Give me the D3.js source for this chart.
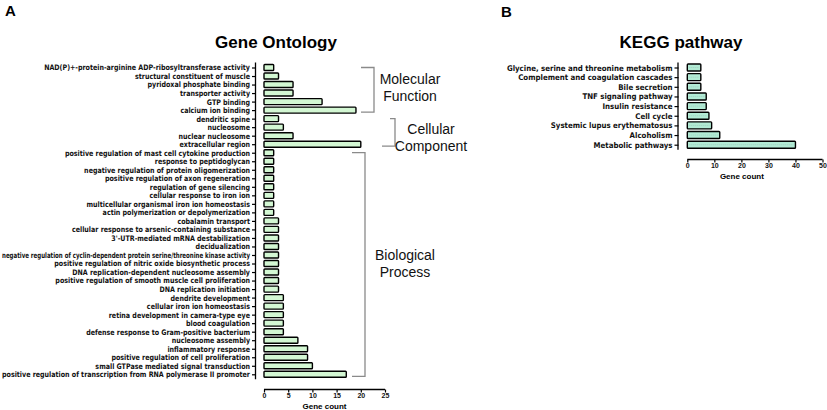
<!DOCTYPE html>
<html><head><meta charset="utf-8">
<script src="https://cdn.jsdelivr.net/npm/d3@7"></script>
<style>
body{margin:0;background:#fff;}
svg{display:block;}
</style></head><body>
<svg id="chart" width="827" height="410"></svg>
<script>
const goCategories = [
 "NAD(P)+-protein-arginine ADP-ribosyltransferase activity",
 "structural constituent of muscle",
 "pyridoxal phosphate binding",
 "transporter activity",
 "GTP binding",
 "calcium ion binding",
 "dendritic spine",
 "nucleosome",
 "nuclear nucleosome",
 "extracellular region",
 "positive regulation of mast cell cytokine production",
 "response to peptidoglycan",
 "negative regulation of protein oligomerization",
 "positive regulation of axon regeneration",
 "regulation of gene silencing",
 "cellular response to iron ion",
 "multicellular organismal iron ion homeostasis",
 "actin polymerization or depolymerization",
 "cobalamin transport",
 "cellular response to arsenic-containing substance",
 "3'-UTR-mediated mRNA destabilization",
 "decidualization",
 "negative regulation of cyclin-dependent protein serine/threonine kinase activity",
 "positive regulation of nitric oxide biosynthetic process",
 "DNA replication-dependent nucleosome assembly",
 "positive regulation of smooth muscle cell proliferation",
 "DNA replication initiation",
 "dendrite development",
 "cellular iron ion homeostasis",
 "retina development in camera-type eye",
 "blood coagulation",
 "defense response to Gram-positive bacterium",
 "nucleosome assembly",
 "inflammatory response",
 "positive regulation of cell proliferation",
 "small GTPase mediated signal transduction",
 "positive regulation of transcription from RNA polymerase II promoter"
];
const goCounts = [2,3,6,6,12,19, 3,4,6,20, 2,2,2,2,2,2,2,2,3,3,3,3,3,3,3,3,3,4,4,4,4,4,7,9,9,10,17];
const goTicks = [0,5,10,15,20,25];
const goGroups = [
 {name:["Molecular","Function"], from:0, to:5},
 {name:["Cellular","Component"], from:6, to:9},
 {name:["Biological","Process"], from:10, to:36}
];

const keggCategories = [
 "Glycine, serine and threonine metabolism",
 "Complement and coagulation cascades",
 "Bile secretion",
 "TNF signaling pathway",
 "Insulin resistance",
 "Cell cycle",
 "Systemic lupus erythematosus",
 "Alcoholism",
 "Metabolic pathways"
];
const keggCounts = [5,5,5,7,7,8,9,12,40];
const keggTicks = [0,10,20,30,40,50];

const svg = d3.select("#chart");
const labelFont = "'Liberation Sans', Arial, sans-serif";
const catFont = "'DejaVu Sans Condensed', 'Liberation Sans', Arial, sans-serif";

// Panel letters and titles
svg.append("text").attr("x",5).attr("y",16).attr("font-family",labelFont).attr("font-weight","bold").attr("font-size",15).text("A");
svg.append("text").attr("x",501).attr("y",17).attr("font-family",labelFont).attr("font-weight","bold").attr("font-size",15).text("B");
svg.append("text").attr("x",276).attr("y",48).attr("text-anchor","middle").attr("font-family",labelFont).attr("font-weight","bold").attr("font-size",17).text("Gene Ontology");
svg.append("text").attr("x",681).attr("y",48).attr("text-anchor","middle").attr("font-family",labelFont).attr("font-weight","bold").attr("font-size",17).text("KEGG pathway");

function panel(cats, vals, ticks, opt){
  const x = d3.scaleLinear().domain([0, ticks[ticks.length-1]]).range([opt.x0, opt.x1]);
  const y = d3.scalePoint().domain(cats).range([opt.yTop, opt.yBot]);
  const g = svg.append("g");
  // y axis
  const yAxis = d3.axisLeft(y).tickSize(4).tickPadding(2);
  const ga = g.append("g").attr("transform",`translate(${opt.axisX},0)`).call(yAxis);
  ga.select(".domain").attr("d",`M-0.5,${opt.yTop-5}V${opt.yBot+5}`).attr("stroke","#000").attr("stroke-width",1.3);
  ga.selectAll(".tick line").attr("stroke","#000").attr("stroke-width",1.2);
  const tt = ga.selectAll(".tick text").attr("font-family",catFont).attr("font-size",opt.fs).attr("font-weight","bold").attr("fill","#111");
  if(opt.squeeze){
    tt.each(function(){
      const w = this.getComputedTextLength();
      d3.select(this).attr("textLength", Math.min(w*opt.squeeze, opt.maxW)).attr("lengthAdjust","spacingAndGlyphs");
    });
  }
  // bars
  g.selectAll("rect.bar").data(cats).enter().append("rect").attr("class","bar")
   .attr("x", x(0)).attr("y", d=>y(d)-opt.bh/2)
   .attr("width", (d,i)=>x(vals[i])-x(0)).attr("height", opt.bh)
   .attr("fill", opt.fill).attr("stroke","#000").attr("stroke-width",1.4).attr("rx",0.8);
  if(opt.inner){
    g.selectAll("line.inner").data(cats).enter().append("line")
     .attr("x1",x(0)+2).attr("x2",(d,i)=>x(vals[i])-2)
     .attr("y1",d=>y(d)).attr("y2",d=>y(d))
     .attr("stroke","#8fbfae").attr("stroke-width",0.6).attr("stroke-dasharray","1,1");
  }
  // x axis
  const xAxis = d3.axisBottom(x).tickValues(ticks).tickSize(3).tickPadding(1);
  const gx = g.append("g").attr("transform",`translate(0,${opt.axisY})`).call(xAxis);
  gx.select(".domain").attr("d",`M${x(0)},0H${x(ticks[ticks.length-1])}`).attr("stroke","#000").attr("stroke-width",1.3);
  gx.selectAll(".tick line").attr("stroke","#000").attr("stroke-width",1.2);
  gx.selectAll(".tick text").attr("font-family",labelFont).attr("font-size",7).attr("font-weight","bold").attr("fill","#111");
  g.append("text").attr("x",(x(0)+x(ticks[ticks.length-1]))/2+opt.gcdx).attr("y",opt.axisY+19)
   .attr("text-anchor","middle").attr("font-family",labelFont).attr("font-weight","bold").attr("font-size",8).text("Gene count");
  return {x,y};
}

// squeeze factor so that GO labels match the reference widths
const probe = svg.append("text").attr("font-family",catFont).attr("font-size",7.6).attr("font-weight","bold")
  .text("positive regulation of transcription from RNA polymerase II promoter");
const goSqueeze = 248 / probe.node().getComputedTextLength();
probe.remove();

const go = panel(goCategories, goCounts, goTicks, {x0:264, x1:385, yTop:67.5, yBot:374.3, axisX:256, axisY:389.5, bh:6, fill:"#d3f7d3", fs:7.6, squeeze:goSqueeze, maxW:248, gcdx:0});
const kg = panel(keggCategories, keggCounts, keggTicks, {x0:687.3, x1:822.5, yTop:67.5, yBot:144.7, axisX:678.5, axisY:159.5, bh:7, fill:"#b2ead4", fs:7.8, inner:true, gcdx:-13});

// group brackets
const bracketSpec = [
  {xl:361, xr:374, tx:410, ty:[84,101]},
  {xl:382, xr:395, tx:431, ty:[134,151]},
  {xl:352, xr:365, tx:405, ty:[260,277]}
];
goGroups.forEach((grp,i)=>{
  const s = bracketSpec[i];
  const yt = go.y(goCategories[grp.from]), yb = go.y(goCategories[grp.to]);
  const xlTop = i===1 ? 390 : s.xl;
  svg.append("path").attr("d",`M${xlTop},${yt}H${s.xr}V${yb+2}H${s.xl}`)
   .attr("fill","none").attr("stroke","#8a8a8a").attr("stroke-width",1.3);
  const t = svg.append("text").attr("text-anchor","middle").attr("font-family",labelFont).attr("font-size",14).attr("fill","#111");
  grp.name.forEach((w,j)=>{ t.append("tspan").attr("x",s.tx).attr("y",s.ty[j]).text(w); });
});
</script>
</body></html>
